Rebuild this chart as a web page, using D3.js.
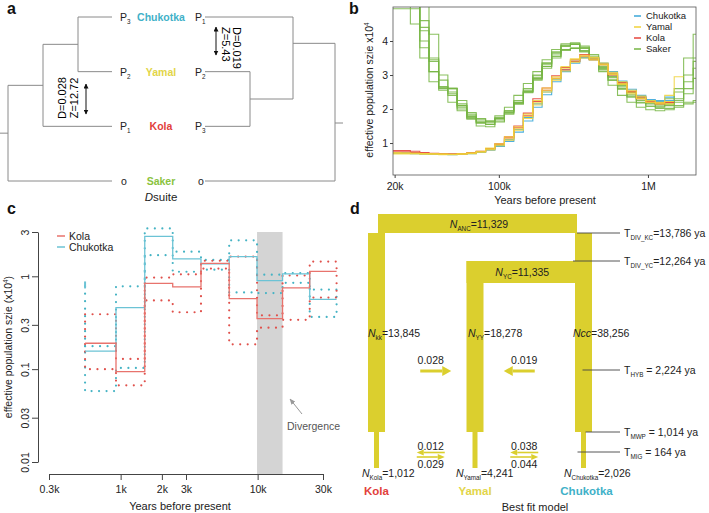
<!DOCTYPE html>
<html>
<head>
<meta charset="utf-8">
<style>
body { margin: 0; background: #fff; }
svg { font-family: "Liberation Sans", Arial, sans-serif; }
.plabel { font-size: 16px; font-weight: bold; fill: #111; }
.tree { stroke: #8a8a8a; stroke-width: 1; fill: none; }
.axis text { font-size: 10.5px; fill: #222; font-family: "Liberation Sans", Arial, sans-serif; }
.axis path, .axis line { stroke: #444; }
.txt { font-size: 10.5px; fill: #222; }
</style>
<script src="https://cdn.jsdelivr.net/npm/d3@7"></script>
</head>
<body>
<svg width="709" height="513"></svg>
<script>

var svg = d3.select("svg");

// ---------- panel a: Dsuite trees
var treePops = ["Chukotka", "Yamal", "Kola", "Saker"];
var leftRoles = ["3", "2", "1", "o"];
var rightRoles = ["1", "2", "3", "o"];
var dStatLeft = ["D=0.028", "Z=12.72"];
var dStatRight = ["D=0.019", "Z=5.43"];

// ---------- panel b: PSMC trajectories (x10^4)
var psmcTimes = [19000, 22000, 25500, 29500, 34000, 39500, 45500, 52500, 61000, 70500, 81500, 94000,
  109000, 126000, 146000, 169000, 195000, 226000, 261000, 302000, 349000, 404000, 467000, 540000,
  625000, 723000, 836000, 967000, 1120000, 1295000, 1500000, 1735000, 2010000, 2100000];
var sakerRuns = [
  [5.3,5.3,5.3,4.6,3.4,2.65,2.6,2.1,1.75,1.6,1.55,1.7,1.95,2.25,2.6,3.0,3.35,3.65,3.85,3.9,3.8,3.55,3.25,2.95,2.7,2.48,2.3,2.18,2.12,2.15,2.3,2.6,3.2],
  [4.95,4.95,4.95,4.0,3.1,2.6,2.45,2.0,1.7,1.5,1.48,1.62,1.85,2.15,2.5,2.9,3.25,3.55,3.75,3.8,3.72,3.5,3.22,2.92,2.65,2.42,2.25,2.15,2.08,2.1,2.2,2.45,2.9],
  [5.3,5.3,4.5,3.5,2.8,2.55,2.2,1.95,1.72,1.62,1.65,1.8,2.05,2.4,2.75,3.1,3.45,3.75,3.92,3.95,3.85,3.6,3.3,3.0,2.72,2.5,2.32,2.2,2.15,2.2,2.5,3.0,3.5],
  [5.3,5.3,5.3,5.3,4.2,3.0,2.62,2.25,1.9,1.72,1.65,1.75,1.95,2.2,2.5,2.85,3.2,3.5,3.72,3.78,3.7,3.45,3.15,2.85,2.6,2.38,2.2,2.08,2.02,2.02,2.1,2.2,2.25],
  [5.3,5.3,5.3,3.8,3.1,2.62,2.4,2.1,1.8,1.65,1.62,1.72,1.92,2.2,2.52,2.92,3.3,3.62,3.85,3.9,3.78,3.5,3.18,2.85,2.58,2.35,2.18,2.08,2.05,2.12,2.25,2.8,3.4],
  [5.3,5.3,5.3,4.4,3.5,2.65,2.5,2.05,1.78,1.58,1.55,1.65,1.88,2.18,2.55,2.98,3.35,3.68,3.88,3.92,3.8,3.5,3.1,2.7,2.4,2.2,2.05,1.98,1.95,1.98,2.05,2.15,2.2],
  [5.3,5.3,5.3,4.3,3.45,2.85,2.6,2.15,1.85,1.7,1.62,1.72,1.9,2.15,2.48,2.88,3.25,3.55,3.75,3.78,3.68,3.45,3.2,2.95,2.7,2.5,2.35,2.25,2.2,2.3,2.6,3.5,4.2]
];
var chukotkaRuns = [
  [0.70,0.70,0.69,0.68,0.67,0.67,0.66,0.67,0.69,0.72,0.79,0.90,1.05,1.32,1.65,2.05,2.42,2.80,3.10,3.35,3.50,3.48,3.35,3.10,2.82,2.58,2.40,2.28,2.25,2.35],
  [0.71,0.71,0.70,0.69,0.68,0.67,0.67,0.68,0.70,0.74,0.81,0.93,1.10,1.40,1.75,2.15,2.50,2.88,3.15,3.40,3.52,3.50,3.32,3.05,2.78,2.52,2.35,2.25,2.22,2.25]
];
var kolaRuns = [
  [0.78,0.78,0.76,0.72,0.70,0.68,0.68,0.69,0.72,0.76,0.84,0.98,1.18,1.50,1.88,2.30,2.62,2.98,3.22,3.45,3.60,3.50,3.32,3.05,2.78,2.52,2.35,2.22,2.18,2.20],
  [0.74,0.74,0.72,0.70,0.69,0.68,0.67,0.68,0.70,0.75,0.83,0.96,1.15,1.45,1.80,2.22,2.55,2.90,3.15,3.40,3.55,3.45,3.30,3.00,2.75,2.50,2.30,2.20,2.15,2.20]
];
var yamalRuns = [
  [0.70,0.70,0.70,0.69,0.68,0.67,0.67,0.68,0.70,0.74,0.82,0.95,1.12,1.42,1.78,2.18,2.55,2.90,3.20,3.45,3.58,3.52,3.35,3.08,2.80,2.55,2.38,2.25,2.20,2.22],
  [0.68,0.68,0.68,0.67,0.67,0.66,0.66,0.67,0.69,0.73,0.80,0.92,1.08,1.38,1.72,2.12,2.50,2.85,3.12,3.38,3.50,3.45,3.30,3.05,2.75,2.50,2.32,2.20,2.18,2.40,2.95],
  [0.72,0.71,0.70,0.69,0.68,0.68,0.67,0.68,0.71,0.76,0.85,0.98,1.18,1.48,1.85,2.25,2.62,2.95,3.25,3.48,3.55,3.48,3.30,3.02,2.72,2.45,2.30,2.20,2.15,2.15]
];
var bLegend = ["Chukotka", "Yamal", "Kola", "Saker"];
var bColors = ["#3ba7d9", "#f0d23a", "#e6453c", "#76b543"];

// ---------- panel c: Kola vs Chukotka history (x10^4)
var cTimes = [550, 925, 1500, 2400, 3860, 6200, 9900, 15200, 24000, 37700];
var kolaMed = [0.19, 0.094, 0.84, 0.77, 1.38, 0.575, 0.35, 0.75, 1.13];
var kolaLo  = [0.10, 0.067, 0.55, 0.41, 1.21, 0.185, 0.28, 0.34, 0.59];
var kolaHi  = [0.39, 0.129, 0.97, 1.05, 1.47, 1.63, 0.38, 1.02, 1.44];
var chukMed = [0.156, 0.46, 2.69, 1.54, 1.36, 1.63, 0.90, 1.06, 0.565];
var chukLo  = [0.058, 0.103, 1.69, 1.12, 1.18, 0.67, 0.66, 0.85, 0.365];
var chukHi  = [0.177, 0.78, 3.28, 1.84, 1.50, 2.44, 1.04, 1.08, 0.72];
var chukFirstTop = 0.88;
var divergence = [9900, 15200];

// ---------- panel d: best fit model
var dPops = ["Kola", "Yamal", "Chukotka"];
var nAncestral = [11329, 11335];        // ANC, YC
var nOld = [13845, 18278, 38256];       // kk, YY, cc
var nNow = [1012, 4241, 2026];
var eventNames = ["DIV_KC", "DIV_YC", "HYB", "MWP", "MIG"];
var eventTimes = [13786, 12264, 2224, 1014, 164];
var migOld = [0.028, 0.019];            // Kola->Yamal, Chukotka->Yamal
var migNew = [[0.012, 0.029], [0.038, 0.044]];

var popColor = {Chukotka: "#3fb1c8", Yamal: "#e2d548", Kola: "#e2403b", Saker: "#8ac33e"};
var yel = "#dbcf2e";

function richText(g, x, y, parts, anchor, size) {
  var t = g.append("text").attr("x", x).attr("y", y)
    .attr("text-anchor", anchor || "start").style("font-size", size + "px").attr("fill", "#222");
  var cur = 0;
  parts.forEach(function(p) {
    var off = p.sub ? size * 0.28 : p.sup ? -size * 0.42 : 0;
    var s = t.append("tspan").text(p.t).attr("dy", off - cur);
    cur = off;
    if (p.sub || p.sup) s.style("font-size", (size * 0.6) + "px");
    if (p.i) s.style("font-style", "italic");
  });
  return t;
}

var defs = svg.append("defs");
defs.append("marker").attr("id", "ah").attr("viewBox", "0 0 10 10").attr("refX", 9).attr("refY", 5)
  .attr("markerWidth", 5).attr("markerHeight", 5).attr("orient", "auto-start-reverse")
  .append("path").attr("d", "M0,0L10,5L0,10z").attr("fill", "#111");
defs.append("marker").attr("id", "ahg").attr("viewBox", "0 0 10 10").attr("refX", 9).attr("refY", 5)
  .attr("markerWidth", 6).attr("markerHeight", 6).attr("orient", "auto")
  .append("path").attr("d", "M0,1L10,5L0,9z").attr("fill", "#999");

// =============== panel a
var ga = svg.append("g");
ga.append("text").attr("class", "plabel").attr("x", 7).attr("y", 14).text("a");
var ya = d3.scalePoint().domain(treePops).range([17, 181]);
var yC = ya("Chukotka"), yY = ya("Yamal"), yK = ya("Kola"), yS = ya("Saker");
var n1 = (yC + yY) / 2, n2 = (n1 + yK) / 2, n3 = (n2 + yS) / 2;
var leftTree = [
  [[112, yC], [78, yC], [78, yY], [112, yY]],
  [[78, n1], [43, n1], [43, yK], [112, yK]],
  [[43, n2], [8, n2], [8, yS], [112, yS]],
  [[0, n3], [8, n3]]
];
var r1 = (yY + yK) / 2;
var rightTree = [
  [[205, yY], [250, yY], [250, yK], [205, yK]],
  [[250, r1], [293, r1], [293, yC], [205, yC]],
  [[293, n1 - 1], [335, n1 - 1], [335, yS], [205, yS]],
  [[335, 123], [343, 123]]
];
var lineA = d3.line();
ga.selectAll(".tl").data(leftTree.concat(rightTree)).enter().append("path")
  .attr("class", "tree").attr("d", lineA);

treePops.forEach(function(p, i) {
  var y = ya(p) + 4;
  ga.append("text").attr("x", 161).attr("y", y).attr("text-anchor", "middle")
    .style("font-size", "10.5px").style("font-weight", "bold").attr("fill", popColor[p]).text(p);
  if (leftRoles[i] === "o") {
    richText(ga, 121, y, [{t: "o"}], "start", 10.5);
    richText(ga, 198, y, [{t: "o"}], "start", 10.5);
  } else {
    richText(ga, 120, y, [{t: "P"}, {t: leftRoles[i], sub: true}], "start", 10.5);
    richText(ga, 195, y, [{t: "P"}, {t: rightRoles[i], sub: true}], "start", 10.5);
  }
});
richText(ga, 161, 201, [{t: "D", i: true}, {t: "suite"}], "middle", 11.5);

var tl = ga.append("g").attr("transform", "translate(66,98) rotate(-90)");
tl.append("text").attr("text-anchor", "middle").attr("y", 0).style("font-size", "11px").text(dStatLeft[0]);
tl.append("text").attr("text-anchor", "middle").attr("y", 12).style("font-size", "11px").text(dStatLeft[1]);
ga.append("line").attr("x1", 86).attr("x2", 86).attr("y1", 84).attr("y2", 114)
  .attr("stroke", "#111").attr("marker-start", "url(#ah)").attr("marker-end", "url(#ah)");
var tr = ga.append("g").attr("transform", "translate(233,27) rotate(90)");
tr.append("text").attr("text-anchor", "start").attr("y", 0).style("font-size", "11px").text(dStatRight[0]);
tr.append("text").attr("text-anchor", "start").attr("y", 11).style("font-size", "11px").text(dStatRight[1]);
ga.append("line").attr("x1", 216).attr("x2", 216).attr("y1", 27).attr("y2", 55)
  .attr("stroke", "#111").attr("marker-start", "url(#ah)").attr("marker-end", "url(#ah)");

// =============== panel b
var gb = svg.append("g");
gb.append("text").attr("class", "plabel").attr("x", 349).attr("y", 14).text("b");
var bx = d3.scaleLog().domain([19500, 2100000]).range([393, 696]);
var by = d3.scaleLinear().domain([0.06, 5]).range([175, 7]);
defs.append("clipPath").attr("id", "clipb").append("rect")
  .attr("x", 393).attr("y", 7).attr("width", 303).attr("height", 168);

function stepPts(vals, times) {
  var pts = vals.map(function(v, i) { return [times[i], v]; });
  pts.push([times[vals.length], vals[vals.length - 1]]);
  return pts;
}
var lineB = d3.line().curve(d3.curveStepAfter)
  .x(function(d) { return bx(d[0]); }).y(function(d) { return by(d[1]); });
var plotB = gb.append("g").attr("clip-path", "url(#clipb)");
function drawRuns(runs, color, op) {
  plotB.append("g").selectAll("path").data(runs).enter().append("path")
    .attr("d", function(d) { return lineB(stepPts(d, psmcTimes)); })
    .attr("fill", "none").attr("stroke", color).attr("stroke-width", 1.1).attr("stroke-opacity", op);
}
drawRuns(sakerRuns, bColors[3], 0.85);
drawRuns(chukotkaRuns, bColors[0], 0.9);
drawRuns(kolaRuns, bColors[2], 0.9);
drawRuns(yamalRuns, bColors[1], 0.85);

gb.append("rect").attr("x", 393).attr("y", 7).attr("width", 303).attr("height", 168)
  .attr("fill", "none").attr("stroke", "#555").attr("stroke-width", 0.8);
gb.append("g").attr("class", "axis").attr("transform", "translate(393,0)")
  .call(d3.axisLeft(by).tickValues([1, 2, 3, 4]).tickSize(3).tickPadding(2).tickFormat(d3.format("d")))
  .call(function(g) { g.select(".domain").remove(); });
gb.append("g").attr("class", "axis").attr("transform", "translate(0,175)")
  .call(d3.axisBottom(bx).tickValues([20000, 100000, 1000000]).tickSize(3).tickPadding(5)
    .tickFormat(function(d) { return d >= 1e6 ? "1M" : (d / 1000) + "k"; }))
  .call(function(g) { g.select(".domain").remove(); });
gb.append("text").attr("class", "txt").attr("x", 545).attr("y", 204).attr("text-anchor", "middle")
  .style("font-size", "11px").text("Years before present");
var byl = gb.append("g").attr("transform", "translate(373,90) rotate(-90)");
richText(byl, 0, 0, [{t: "effective population szie  x10"}, {t: "4", sup: true}], "middle", 10.5);

var leg = gb.append("g");
bLegend.forEach(function(name, i) {
  var y = 16 + i * 11;
  leg.append("line").attr("x1", 634).attr("x2", 641).attr("y1", y).attr("y2", y)
    .attr("stroke", bColors[i]).attr("stroke-width", 1.5);
  leg.append("text").attr("x", 646).attr("y", y + 3.3).style("font-size", "9.5px").attr("fill", "#222").text(name);
});

// =============== panel c
var gc = svg.append("g");
gc.append("text").attr("class", "plabel").attr("x", 7).attr("y", 214).text("c");
var cx = d3.scaleLog().domain([300, 30000]).range([49, 323]);
var cy = d3.scaleLog().domain([0.01, 3]).range([462, 232]);

gc.append("rect").attr("x", cx(divergence[0])).attr("y", cy(3))
  .attr("width", cx(divergence[1]) - cx(divergence[0])).attr("height", 474 - cy(3))
  .attr("fill", "#d4d4d4");

function ciPolygon(lo, hi) {
  var pts = [];
  hi.forEach(function(v, i) { pts.push([cTimes[i], v], [cTimes[i + 1], v]); });
  for (var i = lo.length - 1; i >= 0; i--) pts.push([cTimes[i + 1], lo[i]], [cTimes[i], lo[i]]);
  pts.push(pts[0]);
  return pts;
}
var lineC = d3.line().x(function(d) { return cx(d[0]); }).y(function(d) { return cy(d[1]); });
var lineCs = d3.line().curve(d3.curveStepAfter).x(function(d) { return cx(d[0]); }).y(function(d) { return cy(d[1]); });

var redDot = "#e0514c", blueDot = "#45b3c4";
gc.append("path").attr("d", lineC([[cTimes[0], chukHi[0]], [cTimes[0], chukFirstTop]]))
  .attr("fill", "none").attr("stroke", blueDot).attr("stroke-width", 2.2)
  .attr("stroke-linecap", "round").attr("stroke-dasharray", "0,7.5");
gc.append("path").attr("d", lineC([[cTimes[0], chukFirstTop - 0.14], [cTimes[0], chukFirstTop]]))
  .attr("stroke", "#6cc3d5").attr("stroke-width", 2);
gc.append("path").attr("d", lineC(ciPolygon(chukLo, chukHi)))
  .attr("fill", "none").attr("stroke", blueDot).attr("stroke-width", 2.2)
  .attr("stroke-linecap", "round").attr("stroke-dasharray", "0,7.5");
gc.append("path").attr("d", lineC(ciPolygon(kolaLo, kolaHi)))
  .attr("fill", "none").attr("stroke", redDot).attr("stroke-width", 2.2)
  .attr("stroke-linecap", "round").attr("stroke-dasharray", "0,7.5");
gc.append("path").attr("d", lineCs(stepPts(chukMed, cTimes)))
  .attr("fill", "none").attr("stroke", "#6cc3d5").attr("stroke-width", 1.3);
gc.append("path").attr("d", lineCs(stepPts(kolaMed, cTimes)))
  .attr("fill", "none").attr("stroke", "#e8736d").attr("stroke-width", 1.3);

var yAxC = gc.append("g").attr("class", "axis").attr("transform", "translate(38,0)")
  .call(d3.axisLeft(cy).tickValues([0.01, 0.03, 0.1, 0.3, 1, 3]).tickSize(6).tickSizeOuter(0)
    .tickFormat(function(d) { return String(d); }));
yAxC.selectAll(".tick text").attr("transform", "rotate(-90)").attr("x", 0).attr("y", -9)
  .attr("dy", "0").attr("text-anchor", "middle");
gc.append("g").attr("class", "axis").attr("transform", "translate(0,474)")
  .call(d3.axisBottom(cx).tickValues([300, 1000, 2000, 3000, 10000, 30000]).tickSize(6).tickSizeOuter(0).tickPadding(6)
    .tickFormat(function(d) { return (d / 1000) + "k"; }));
gc.append("text").attr("class", "txt").attr("x", 180).attr("y", 510).attr("text-anchor", "middle")
  .style("font-size", "11px").text("Years before present");
var cyl = gc.append("g").attr("transform", "translate(12,347) rotate(-90)");
richText(cyl, 0, 0, [{t: "effective population szie  (x10"}, {t: "4", sup: true}, {t: ")"}], "middle", 10.5);

gc.append("line").attr("x1", 302).attr("y1", 414).attr("x2", 290).attr("y2", 399)
  .attr("stroke", "#999").attr("marker-end", "url(#ahg)");
gc.append("text").attr("x", 287).attr("y", 430).style("font-size", "10.5px").attr("fill", "#555").text("Divergence");

[["Kola", "#e8736d"], ["Chukotka", "#6cc3d5"]].forEach(function(d, i) {
  var y = 236 + i * 11;
  gc.append("line").attr("x1", 57).attr("x2", 65).attr("y1", y).attr("y2", y).attr("stroke", d[1]).attr("stroke-width", 1.5);
  gc.append("text").attr("x", 69).attr("y", y + 4).style("font-size", "10.5px").attr("fill", "#222").text(d[0]);
});

// =============== panel d
var gd = svg.append("g");
gd.append("text").attr("class", "plabel").attr("x", 350).attr("y", 214).text("d");
var dx = d3.scaleOrdinal().domain(dPops).range([376.5, 475, 583.5]);
var ty = d3.scaleLinear().domain([0, 164, 1014, 2224, 12264, 13786]).range([468, 452, 432, 370, 261, 233]);
var legW = 17, stemW = 5;
var tKC = ty(eventTimes[0]), tYC = ty(eventTimes[1]), tMWP = ty(eventTimes[3]);

gd.append("rect").attr("x", dx("Kola") + 1.5).attr("y", tKC - 19)
  .attr("width", dx("Chukotka") - 6.5 - dx("Kola") - 1.5).attr("height", 19).attr("fill", yel);
gd.append("rect").attr("x", dx("Yamal") - legW / 2).attr("y", tYC)
  .attr("width", dx("Chukotka") - dx("Yamal") + legW).attr("height", 22).attr("fill", yel);
dPops.forEach(function(p) {
  var top = p === "Yamal" ? tYC : tKC;
  gd.append("rect").attr("x", dx(p) - legW / 2).attr("y", top).attr("width", legW)
    .attr("height", tMWP - top).attr("fill", yel);
  gd.append("rect").attr("x", dx(p) - stemW / 2).attr("y", tMWP).attr("width", stemW)
    .attr("height", ty(0) - tMWP).attr("fill", yel);
});

var fmt = d3.format(",");
richText(gd, (dx("Kola") + dx("Chukotka")) / 2 - 1, tKC - 5,
  [{t: "N", i: true}, {t: "ANC", sub: true}, {t: "=" + fmt(nAncestral[0])}], "middle", 10.5);
richText(gd, (dx("Yamal") + dx("Chukotka")) / 2 - 7, tYC + 15,
  [{t: "N", i: true}, {t: "YC", sub: true}, {t: "=" + fmt(nAncestral[1])}], "middle", 10.5);
richText(gd, dx("Kola") - 8.5, 337, [{t: "N", i: true}, {t: "kk", sub: true}, {t: "=" + fmt(nOld[0])}], "start", 10.5);
richText(gd, dx("Yamal") - 7, 337, [{t: "N", i: true}, {t: "YY", sub: true}, {t: "=" + fmt(nOld[1])}], "start", 10.5);
richText(gd, dx("Chukotka") - 10.5, 337, [{t: "Ncc", i: true}, {t: "=" + fmt(nOld[2])}], "start", 10.5);

var nowX = [362, 456, 564];
dPops.forEach(function(p, i) {
  richText(gd, nowX[i], 477, [{t: "N", i: true}, {t: p, sub: true}, {t: "=" + fmt(nNow[i])}], "start", 10.5);
  gd.append("text").attr("x", dx(p) + (i === 2 ? 3 : 0)).attr("y", 495).attr("text-anchor", "middle")
    .style("font-size", "11.5px").style("font-weight", "bold").attr("fill", popColor[p]).text(p);
});
gd.append("text").attr("x", 535).attr("y", 511).attr("text-anchor", "middle")
  .style("font-size", "11px").attr("fill", "#222").text("Best fit model");

function yArrow(x1, x2, y, w, hl, hw) {
  var dir = x2 > x1 ? 1 : -1;
  gd.append("line").attr("x1", x1).attr("x2", x2 - dir * hl).attr("y1", y).attr("y2", y)
    .attr("stroke", yel).attr("stroke-width", w);
  gd.append("path").attr("d", "M" + x2 + "," + y + "L" + (x2 - dir * hl) + "," + (y - hw / 2) +
    "L" + (x2 - dir * hl) + "," + (y + hw / 2) + "Z").attr("fill", yel);
}
var pairs = [["Kola", "Yamal"], ["Chukotka", "Yamal"]];
pairs.forEach(function(pr, i) {
  var a = dx(pr[0]), b = dx(pr[1]);
  var dir = b > a ? 1 : -1;
  var mid = (a + b) / 2;
  var tc = mid + dir * 5;
  gd.append("text").attr("x", tc).attr("y", 364).attr("text-anchor", "middle")
    .style("font-size", "10.5px").attr("fill", "#222").text(migOld[i]);
  var ac = mid + dir * 10;
  yArrow(ac - dir * 15.5, ac + dir * 15.5, 371, 3, 9, 10);
});
[["Kola", "Yamal"], ["Yamal", "Chukotka"]].forEach(function(pr, i) {
  var a = dx(pr[0]), b = dx(pr[1]);
  var c = (a + b) / 2 + (i === 0 ? 5 : -5);
  gd.append("text").attr("x", c).attr("y", 450).attr("text-anchor", "middle")
    .style("font-size", "10.5px").attr("fill", "#222").text(migNew[i][0]);
  gd.append("text").attr("x", c).attr("y", 468).attr("text-anchor", "middle")
    .style("font-size", "10.5px").attr("fill", "#222").text(migNew[i][1]);
  yArrow(c + 14, c - 14, 452.5, 1.6, 7, 6);
  yArrow(c - 14, c + 14, 457, 1.6, 7, 6);
});

var lineStart = [dx("Chukotka") - 6.5, dx("Chukotka") - 10.5, dx("Chukotka") - 1, dx("Chukotka") + 2, dx("Chukotka") - 6];
var eventSpace = [false, false, true, true, true];
eventNames.forEach(function(n, i) {
  var y = ty(eventTimes[i]);
  gd.append("line").attr("x1", lineStart[i]).attr("x2", 620).attr("y1", y).attr("y2", y)
    .attr("stroke", "#444").attr("stroke-width", 0.9);
  var eq = eventSpace[i] ? " = " : "=";
  richText(gd, 624, y + 4, [{t: "T"}, {t: n, sub: true}, {t: eq + fmt(eventTimes[i]) + " ya"}], "start", 10.5);
});

</script>
</body>
</html>
